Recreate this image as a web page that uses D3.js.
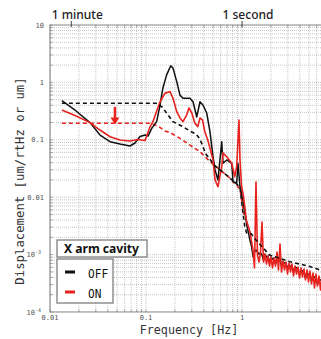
<!DOCTYPE html>
<html>
<head>
<meta charset="utf-8">
<script src="https://cdn.jsdelivr.net/npm/d3@7"></script>
<style>
  body { margin: 0; background: #fff; }
  svg text { font-family: "DejaVu Sans Mono", monospace; }
</style>
</head>
<body>
<div id="myChart"></div>
<script>
// OFF measured spectrum (black solid), below 1.3 Hz
var offFreq = [0.0133, 0.0187, 0.0261, 0.0332, 0.0422, 0.0536, 0.0681, 0.0768, 0.0866, 0.0977, 0.105, 0.1155, 0.129, 0.140, 0.150, 0.164, 0.181, 0.191, 0.209, 0.226, 0.243, 0.287, 0.309, 0.338, 0.365, 0.393, 0.429, 0.464, 0.499, 0.524, 0.562, 0.615, 0.634, 0.693, 0.782, 0.806, 0.881, 0.908, 0.953, 1.024, 1.12, 1.21, 1.26];
var offAmp = [0.48, 0.318, 0.199, 0.121, 0.0927, 0.0845, 0.078, 0.088, 0.114, 0.121, 0.116, 0.161, 0.207, 0.40, 0.80, 1.35, 1.95, 1.78, 1.03, 0.60, 0.53, 0.53, 0.46, 0.25, 0.46, 0.40, 0.293, 0.137, 0.0508, 0.0298, 0.020, 0.0927, 0.039, 0.0445, 0.039, 0.0186, 0.0177, 0.039, 0.0152, 0.0089, 0.0033, 0.0018, 0.00137];

// ON measured spectrum (red solid), below 1.3 Hz
var onFreq = [0.0133, 0.0187, 0.0261, 0.0332, 0.0422, 0.0536, 0.0681, 0.0823, 0.0977, 0.110, 0.118, 0.140, 0.158, 0.178, 0.191, 0.209, 0.226, 0.243, 0.265, 0.280, 0.300, 0.322, 0.346, 0.365, 0.388, 0.410, 0.440, 0.470, 0.499, 0.524, 0.562, 0.615, 0.634, 0.693, 0.782, 0.840, 0.880, 0.930, 0.953, 0.990, 1.024, 1.07, 1.11, 1.21];
var onAmp = [0.33, 0.26, 0.199, 0.148, 0.113, 0.099, 0.095, 0.101, 0.097, 0.167, 0.207, 0.46, 0.65, 0.69, 0.53, 0.31, 0.24, 0.207, 0.27, 0.358, 0.293, 0.196, 0.169, 0.24, 0.221, 0.138, 0.099, 0.066, 0.0445, 0.020, 0.0152, 0.034, 0.059, 0.0508, 0.039, 0.0228, 0.034, 0.221, 0.0445, 0.0152, 0.0118, 0.0068, 0.0040, 0.0025];

// high frequency noise floor, shared frequencies for both measurements
var floorFreq = [1.302, 1.350, 1.399, 1.450, 1.504, 1.558, 1.616, 1.675, 1.736, 1.800, 1.866, 1.934, 2.005, 2.078, 2.154, 2.234, 2.315, 2.400, 2.488, 2.579, 2.674, 2.772, 2.873, 2.979, 3.088, 3.200, 3.318, 3.440, 3.566, 3.696, 3.831, 3.972, 4.118, 4.268, 4.424, 4.587, 4.755, 4.929, 5.109, 5.297, 5.491, 5.692, 5.900, 6.117, 6.340, 6.573, 6.813, 7.063, 7.321, 7.590];
var offFloor = [0.00092, 0.00111, 0.0012, 0.00111, 0.00102, 0.00107, 0.000984, 0.000805, 0.00102, 0.000908, 0.000945, 0.000743, 0.000873, 0.000838, 0.000873, 0.000686, 0.000838, 0.000774, 0.000805, 0.000633, 0.000743, 0.000714, 0.000714, 0.000562, 0.000659, 0.000633, 0.000633, 0.000498, 0.000608, 0.000585, 0.000562, 0.000441, 0.00054, 0.000518, 0.000498, 0.000391, 0.000478, 0.000459, 0.000441, 0.000347, 0.000424, 0.000407, 0.000391, 0.000308, 0.000376, 0.000361, 0.000347, 0.000284, 0.000333, 0.00032];
var onFloor = [0.00120, 0.000585, 0.0184, 0.00098, 0.000743, 0.00107, 0.0037, 0.000743, 0.00102, 0.000686, 0.000945, 0.000633, 0.000908, 0.000585, 0.000873, 0.000633, 0.00111, 0.00054, 0.00153, 0.000498, 0.000774, 0.00054, 0.000743, 0.000459, 0.000714, 0.000498, 0.000686, 0.000424, 0.000633, 0.000459, 0.000608, 0.000391, 0.000585, 0.000407, 0.000562, 0.000361, 0.00054, 0.000333, 0.000518, 0.000308, 0.000478, 0.000262, 0.000459, 0.000284, 0.000424, 0.000242, 0.000407, 0.000223, 0.000391, 0.000242];

// model curves (dashed)
var offModelFreq = [0.0133, 0.130, 0.147, 0.164, 0.191, 0.243, 0.287, 0.332, 0.365, 0.42, 0.524, 0.71, 0.953, 1.024, 1.07, 1.12, 1.25, 1.34, 1.94, 3.16, 5.11, 7.68];
var offModelAmp = [0.433, 0.433, 0.373, 0.293, 0.207, 0.169, 0.142, 0.126, 0.103, 0.0566, 0.035, 0.0234, 0.0150, 0.0053, 0.0030, 0.00238, 0.0023, 0.00195, 0.00098, 0.00075, 0.00062, 0.00049];
var onModelFreq = [0.0133, 0.110, 0.133, 0.158, 0.178, 0.226, 0.287, 0.365, 0.41, 0.524, 0.71, 0.953, 1.05];
var onModelAmp = [0.194, 0.194, 0.174, 0.142, 0.134, 0.106, 0.081, 0.062, 0.0508, 0.035, 0.0234, 0.0139, 0.0049];

// arrow from OFF level down to ON level
var arrowFreq = 0.0475;
var arrowFrom = 0.375, arrowTo = 0.185;

var yTickVals = [10, 1, 0.1, 0.01, 1e-3, 1e-4];
var yTickText = ["10", "1", "0.1", "0.01", "10|-3", "10|-4"];
var xTickVals = [0.01, 0.1, 1];
var xTickText = ["0.01", "0.1", "1"];
var topMarks = [{ f: 1 / 60, label: "1 minute" }, { f: 1, label: "1 second" }];
var legendItems = [{ label: "OFF", color: "#111" }, { label: "ON", color: "#e8231e" }];

var W = 321, H = 339;

var x = d3.scaleLog().domain([0.01, 10]).range([50, 338]);
var y = d3.scaleLog().domain([1e-4, 10]).range([312, 25]);

var svg = d3.select("#myChart").append("svg")
    .attr("width", W)
    .attr("height", H);

svg.append("clipPath").attr("id", "plot-clip")
    .append("rect")
    .attr("x", x.range()[0]).attr("y", y.range()[1])
    .attr("width", x.range()[1] - x.range()[0])
    .attr("height", y.range()[0] - y.range()[1]);

// grid
var grid = svg.append("g").attr("clip-path", "url(#plot-clip)");
grid.selectAll(".vg").data(x.ticks()).enter().append("line")
    .attr("x1", d => x(d)).attr("x2", d => x(d))
    .attr("y1", y.range()[1]).attr("y2", y.range()[0])
    .attr("stroke", "#adadad").attr("stroke-width", 0.7)
    .attr("stroke-dasharray", "1,1");
grid.selectAll(".hg").data(y.ticks()).enter().append("line")
    .attr("y1", d => y(d)).attr("y2", d => y(d))
    .attr("x1", x.range()[0]).attr("x2", x.range()[1])
    .attr("stroke", "#adadad").attr("stroke-width", 0.7)
    .attr("stroke-dasharray", "1,1");

// small inward ticks on frame
svg.append("g").selectAll("line").data(x.ticks()).enter().append("line")
    .attr("x1", d => x(d)).attr("x2", d => x(d))
    .attr("y1", 25).attr("y2", 27.5)
    .attr("stroke", "#777").attr("stroke-width", 0.7);
svg.append("g").selectAll("line").data(x.ticks()).enter().append("line")
    .attr("x1", d => x(d)).attr("x2", d => x(d))
    .attr("y1", 312).attr("y2", 309.5)
    .attr("stroke", "#777").attr("stroke-width", 0.7);
svg.append("g").selectAll("line").data(y.ticks()).enter().append("line")
    .attr("y1", d => y(d)).attr("y2", d => y(d))
    .attr("x1", 50).attr("x2", 52.5)
    .attr("stroke", "#777").attr("stroke-width", 0.7);

// frame
svg.append("path")
    .attr("d", "M" + x.range()[1] + "," + y.range()[1] + "H" + x.range()[0] + "V" + y.range()[0] + "H" + x.range()[1])
    .attr("fill", "none").attr("stroke", "#8a8a8a").attr("stroke-width", 1.2);

// curves
var line = d3.line()
    .x(d => x(d[0]))
    .y(d => y(d[1]));

var zip = (a, b) => a.map((v, i) => [v, b[i]]);
var offData = zip(offFreq, offAmp).concat(zip(floorFreq, offFloor));
var onData = zip(onFreq, onAmp).concat(zip(floorFreq, onFloor));

var plot = svg.append("g").attr("clip-path", "url(#plot-clip)");

plot.append("path").datum(zip(onModelFreq, onModelAmp))
    .attr("d", line).attr("fill", "none")
    .attr("stroke", "#e8231e").attr("stroke-width", 1.6)
    .attr("stroke-dasharray", "4,3");

plot.append("path").datum(offData)
    .attr("d", line).attr("fill", "none")
    .attr("stroke", "#111").attr("stroke-width", 1.5)
    .attr("stroke-linejoin", "round");

plot.append("path").datum(onData)
    .attr("d", line).attr("fill", "none")
    .attr("stroke", "#e8231e").attr("stroke-width", 1.6)
    .attr("stroke-linejoin", "round");

plot.append("path").datum(zip(offModelFreq, offModelAmp))
    .attr("d", line).attr("fill", "none")
    .attr("stroke", "#111").attr("stroke-width", 1.6)
    .attr("stroke-dasharray", "4,3");

// arrow
var ax = x(arrowFreq);
plot.append("line")
    .attr("x1", ax).attr("x2", ax)
    .attr("y1", y(arrowFrom)).attr("y2", y(arrowTo) - 6)
    .attr("stroke", "#e8231e").attr("stroke-width", 2.5);
plot.append("path")
    .attr("d", "M" + (ax - 4.5) + "," + (y(arrowTo) - 7) + "L" + (ax + 4.5) + "," + (y(arrowTo) - 7) + "L" + ax + "," + y(arrowTo) + "Z")
    .attr("fill", "#e8231e");

// y tick labels
var yl = svg.append("g");
yTickVals.forEach(function (v, i) {
    var parts = yTickText[i].split("|");
    var t = yl.append("text")
        .attr("x", 44).attr("y", y(v) + 2.5)
        .attr("text-anchor", "end")
        .attr("font-size", 7).attr("fill", "#555");
    if (parts.length > 1) {
        t.attr("x", 41);
        t.append("tspan").text(parts[0]);
        t.append("tspan").attr("dy", -3).attr("font-size", 5).text(parts[1]);
    } else {
        t.text(parts[0]);
    }
});

// x tick labels
svg.append("g").selectAll("text").data(xTickVals).enter().append("text")
    .attr("x", d => x(d)).attr("y", 320)
    .attr("text-anchor", "middle")
    .attr("font-size", 7).attr("fill", "#555")
    .text((d, i) => xTickText[i]);

// top time marks
topMarks.forEach(function (m) {
    svg.append("line")
        .attr("x1", x(m.f)).attr("x2", x(m.f))
        .attr("y1", 21).attr("y2", 27)
        .attr("stroke", "#444").attr("stroke-width", 1);
    svg.append("text")
        .attr("x", x(m.f) + 6).attr("y", 19)
        .attr("text-anchor", "middle")
        .style("font-family", "'Noto Sans', sans-serif")
        .attr("font-size", 12).attr("font-weight", 500)
        .attr("fill", "#222")
        .text(m.label);
});

// axis titles
svg.append("text")
    .attr("transform", "translate(24,181) rotate(-90)")
    .attr("text-anchor", "middle")
    .attr("font-size", 12.3).attr("fill", "#333")
    .text("Displacement [um/rtHz or um]");

svg.append("text")
    .attr("x", 189).attr("y", 334)
    .attr("text-anchor", "middle")
    .attr("font-size", 11.7).attr("fill", "#333")
    .text("Frequency [Hz]");

// legend
var lg = svg.append("g");
lg.append("rect")
    .attr("x", 57).attr("y", 240).attr("width", 90).attr("height", 17)
    .attr("fill", "#fff").attr("stroke", "#888").attr("stroke-width", 1.4);
lg.append("text")
    .attr("x", 64).attr("y", 253)
    .style("font-family", "'Noto Sans', Arial, sans-serif")
    .attr("font-size", 12).attr("font-weight", "bold").attr("fill", "#111")
    .attr("textLength", 75).attr("lengthAdjust", "spacingAndGlyphs")
    .text("X arm cavity");
lg.append("rect")
    .attr("x", 57).attr("y", 259).attr("width", 56).attr("height", 44)
    .attr("fill", "#fff").attr("stroke", "#888").attr("stroke-width", 1.4);
legendItems.forEach(function (it, i) {
    var cy = 272 + i * 20;
    lg.append("line")
        .attr("x1", 65).attr("x2", 75)
        .attr("y1", cy).attr("y2", cy)
        .attr("stroke", it.color).attr("stroke-width", 3);
    lg.append("text")
        .attr("x", 88).attr("y", cy + 6)
        .attr("font-size", 13).attr("fill", "#111")
        .attr("textLength", it.label.length * 6.7).attr("lengthAdjust", "spacingAndGlyphs")
        .text(it.label);
});
</script>
</body>
</html>
